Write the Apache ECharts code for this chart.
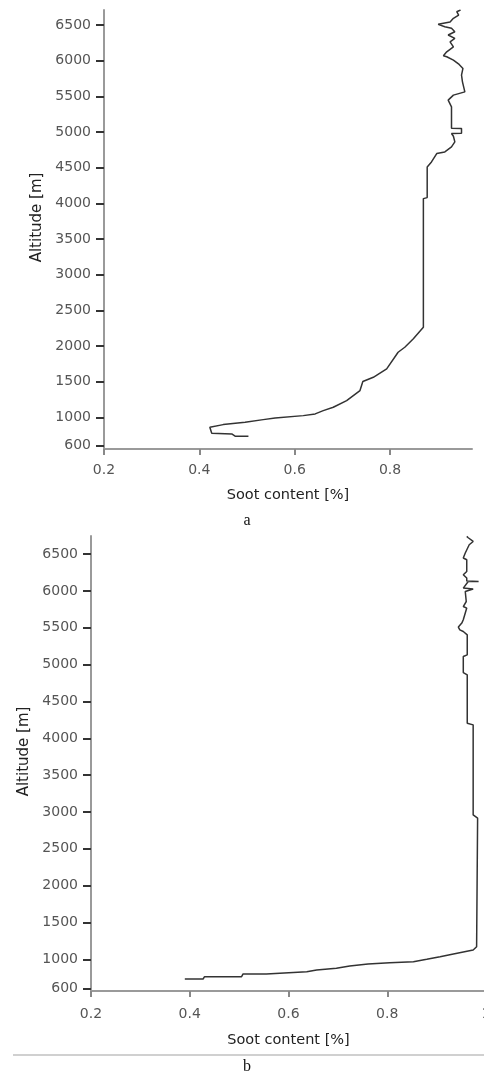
<!DOCTYPE html>
<html>
<head>
<meta charset="utf-8">
<script src="https://cdn.jsdelivr.net/npm/echarts@6/dist/echarts.min.js"></script>
<style>
  html, body { margin: 0; padding: 0; background: #ffffff; }
  #chart { width: 484px; height: 1078px; }
</style>
</head>
<body>
<div id="chart"></div>
<script>
// ---- Panel a data (soot content %, altitude m) ----
const aSoot = [
  0.503, 0.475, 0.468, 0.426, 0.422, 0.450, 0.496, 0.534, 0.559, 0.618,
  0.643, 0.660, 0.681, 0.709, 0.737, 0.743, 0.765, 0.793, 0.817, 0.831,
  0.849, 0.864, 0.870, 0.870, 0.878, 0.878, 0.887, 0.898, 0.915, 0.929,
  0.936, 0.933, 0.929, 0.950, 0.950, 0.929, 0.929, 0.922, 0.933, 0.957,
  0.952, 0.950, 0.953, 0.945, 0.933, 0.919, 0.912, 0.919, 0.933, 0.926,
  0.936, 0.922, 0.936, 0.929, 0.915, 0.901, 0.926, 0.933, 0.944, 0.940,
  0.948
];
const aAlt = [
  733, 735, 766, 775, 859, 897, 929, 967, 991, 1023,
  1047, 1093, 1140, 1234, 1374, 1501, 1561, 1679, 1912, 1982,
  2100, 2216, 2263, 4066, 4080, 4510, 4580, 4698, 4721, 4791,
  4861, 4941, 4979, 4983, 5049, 5054, 5353, 5447, 5517, 5563,
  5704, 5798, 5892, 5948, 6008, 6055, 6069, 6125, 6195, 6265,
  6313, 6360, 6406, 6454, 6476, 6510, 6542, 6594, 6640, 6687,
  6711
];
// ---- Panel b data ----
const bSoot = [
  0.390, 0.427, 0.430, 0.505, 0.508, 0.555, 0.637, 0.657, 0.697, 0.724,
  0.761, 0.805, 0.853, 0.880, 0.907, 0.934, 0.974, 0.981, 0.983, 0.974,
  0.974, 0.962, 0.962, 0.954, 0.954, 0.962, 0.962, 0.954, 0.947, 0.944,
  0.951, 0.954, 0.961, 0.954, 0.960, 0.958, 0.974, 0.954, 0.964, 0.985,
  0.961, 0.961, 0.954, 0.961, 0.961, 0.954, 0.958, 0.966, 0.974, 0.964,
  0.961
];
const bAlt = [
  733, 733, 764, 764, 801, 801, 832, 855, 878, 909,
  936, 954, 967, 1000, 1035, 1072, 1126, 1171, 2915, 2960,
  4182, 4205, 4861, 4892, 5109, 5132, 5404, 5449, 5472, 5509,
  5563, 5608, 5767, 5788, 5856, 5992, 6025, 6038, 6128, 6128,
  6135, 6174, 6219, 6264, 6423, 6446, 6514, 6626, 6671, 6721,
  6740
];
// ---- tick labels ----
const altTicks = [600, 1000, 1500, 2000, 2500, 3000, 3500, 4000, 4500, 5000, 5500, 6000, 6500];
const sootTicksA = [0.2, 0.4, 0.6, 0.8];
const sootTicksB = [0.2, 0.4, 0.6, 0.8, 1.0];
const xTitle = 'Soot content [%]';
const yTitle = 'Altitude [m]';
const captions = ['a', 'b'];

const zip = (xs, ys) => xs.map((x, i) => [x, ys[i]]);
const labelFont = 'DejaVu Sans';

function xAxisCfg(gridIndex, min, max, ticks, nameGap, margin) {
  return {
    type: 'value', gridIndex, min, max,
    name: xTitle, nameLocation: 'middle', nameGap,
    nameTextStyle: { fontFamily: labelFont, fontSize: 14.5, color: '#222' },
    axisLine: { show: true, onZero: false, lineStyle: { color: '#9a9a9a', width: 2 } },
    axisTick: { show: true, customValues: ticks, length: 6, lineStyle: { color: '#888', width: 2 } },
    axisLabel: { customValues: ticks, fontFamily: labelFont, fontSize: 14, color: '#555', margin,
      formatter: v => (Math.abs(v - 1) < 1e-9 ? '1' : v.toFixed(1)) },
    splitLine: { show: false }
  };
}
function yAxisCfg(gridIndex, min, max) {
  return {
    type: 'value', gridIndex, min, max,
    name: yTitle, nameLocation: 'middle', nameGap: 57,
    nameTextStyle: { fontFamily: labelFont, fontSize: 15, color: '#222', padding: [0, 0, 0, 24] },
    axisLine: { show: true, onZero: false, lineStyle: { color: '#9a9a9a', width: 2 } },
    axisTick: { show: true, customValues: altTicks, length: 8, lineStyle: { color: '#333', width: 2 } },
    axisLabel: { customValues: altTicks, fontFamily: labelFont, fontSize: 14, color: '#555', margin: 13,
      formatter: v => String(v) },
    splitLine: { show: false }
  };
}

const chart = echarts.init(document.getElementById('chart'), null, { renderer: 'canvas' });
chart.setOption({
  animation: false,
  backgroundColor: '#ffffff',
  grid: [
    { left: 104, top: 10, width: 368, height: 439, outerBoundsMode: 'none', containLabel: false },
    { left: 91, top: 536, width: 395, height: 455, outerBoundsMode: 'none', containLabel: false }
  ],
  xAxis: [
    xAxisCfg(0, 0.2, 0.972, sootTicksA, 39, 14),
    xAxisCfg(1, 0.2, 1.0, sootTicksB, 42, 16)
  ],
  yAxis: [
    yAxisCfg(0, 555, 6711),
    yAxisCfg(1, 570, 6745)
  ],
  series: [
    { type: 'line', xAxisIndex: 0, yAxisIndex: 0, data: zip(aSoot, aAlt), showSymbol: false,
      lineStyle: { color: '#333', width: 1.5 } },
    { type: 'line', xAxisIndex: 1, yAxisIndex: 1, data: zip(bSoot, bAlt), showSymbol: false,
      lineStyle: { color: '#333', width: 1.5 } }
  ],
  graphic: [
    { type: 'text', x: 247, y: 521, style: { text: captions[0], font: '16px "Liberation Serif"', fill: '#111', align: 'center', verticalAlign: 'middle' } },
    { type: 'line', shape: { x1: 13, y1: 1055, x2: 484, y2: 1055 }, style: { stroke: '#d0d0d0', lineWidth: 2 } },
    { type: 'text', x: 247, y: 1067, style: { text: captions[1], font: '16px "Liberation Serif"', fill: '#111', align: 'center', verticalAlign: 'middle' } }
  ]
});
</script>
</body>
</html>
